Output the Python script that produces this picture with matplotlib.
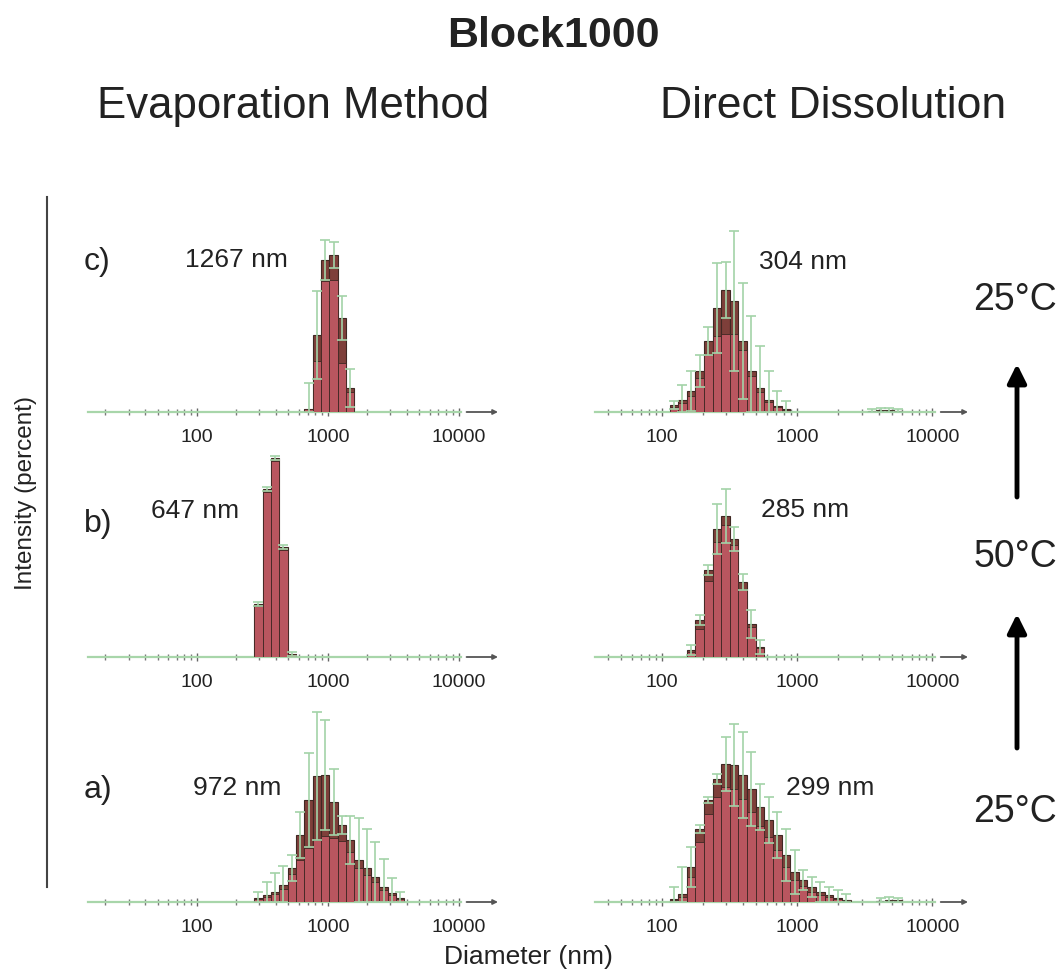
import matplotlib
matplotlib.use('Agg')
import matplotlib.pyplot as plt
from matplotlib.ticker import FixedLocator, NullFormatter
from matplotlib.lines import Line2D


plt.rcParams['font.family'] = ['Liberation Sans', 'DejaVu Sans']

W, H = 1061, 971

# size classes (nm) used by the instrument, and the readings of each panel
# top = bar height, inner = lighter (red) part, upper = top of error bar, all in %

c_left_sizes = [712.4, 825.0, 955.4, 1106, 1281, 1484]
c_left_top = [0.3, 7.7, 15.2, 15.7, 9.4, 2.4]
c_left_inner = [0.3, 5.1, 13.1, 13.2, 4.9, 2.0]
c_left_upper = [2.9, 12.1, 17.2, 17.0, 11.6, 4.3]

b_left_sizes = [295.3, 342.0, 396.1, 458.7, 531.2]
b_left_top = [5.3, 16.8, 19.9, 11.0, 0.3]
b_left_inner = [5.1, 16.5, 19.6, 10.7, 0.3]
b_left_upper = [5.5, 17.0, 20.1, 11.2, 0.5]

a_left_sizes = [295.3, 342.0, 396.1, 458.7, 531.2, 615.1, 712.4, 825.0, 955.4,
                1106, 1281, 1484, 1718, 1990, 2305, 2669, 3091, 3580]
a_left_top = [0.4, 0.7, 1.0, 1.7, 3.4, 6.7, 10.2, 12.6, 12.7,
              10.0, 7.7, 6.2, 4.2, 3.4, 2.5, 1.5, 0.9, 0.4]
a_left_inner = [0.3, 0.5, 0.8, 1.3, 2.8, 4.2, 5.4, 6.2, 6.6,
                6.4, 6.1, 5.0, 3.4, 2.7, 2.0, 1.2, 0.7, 0.3]
a_left_upper = [1.0, 2.0, 2.9, 3.6, 4.7, 9.0, 14.9, 19.0, 18.2,
                13.3, 8.6, 8.6, 8.4, 7.3, 6.0, 4.3, 2.4, 1.0]

c_right_sizes = [122.4, 141.8, 164.2, 190.1, 220.2, 255.0, 295.3, 342.0, 396.1,
                 458.7, 531.2, 615.1, 712.4, 825.0, 3580, 4145, 4801, 5560]
c_right_top = [0.7, 1.2, 2.1, 4.1, 7.1, 10.4, 12.2, 11.1, 7.1,
               4.1, 2.4, 1.2, 0.6, 0.3, 0.1, 0.2, 0.2, 0.1]
c_right_inner = [0.5, 0.9, 1.6, 3.4, 5.8, 7.6, 7.8, 7.8, 6.2,
                 3.6, 2.0, 1.0, 0.5, 0.2, 0.1, 0.1, 0.1, 0.1]
c_right_upper = [1.1, 2.7, 4.1, 5.7, 8.5, 14.9, 15.0, 18.1, 12.9,
                 9.6, 6.6, 4.1, 2.1, 1.1, 0.3, 0.4, 0.4, 0.3]

b_right_sizes = [164.2, 190.1, 220.2, 255.0, 295.3, 342.0, 396.1, 458.7, 531.2]
b_right_top = [0.7, 3.7, 8.7, 12.8, 14.1, 11.8, 7.5, 3.3, 1.0]
b_right_inner = [0.5, 2.8, 7.6, 11.5, 13.2, 11.2, 6.8, 3.0, 0.9]
b_right_upper = [1.2, 4.2, 9.2, 15.3, 16.8, 13.0, 8.3, 4.7, 1.7]

a_right_sizes = [122.4, 141.8, 164.2, 190.1, 220.2, 255.0, 295.3, 342.0, 396.1,
                 458.7, 531.2, 615.1, 712.4, 825.0, 955.4, 1106, 1281, 1484,
                 1718, 1990, 2305, 4145, 4801, 5560]
a_right_top = [0.3, 0.8, 3.5, 7.3, 10.2, 12.3, 13.8, 13.7, 12.7,
               11.3, 9.5, 8.2, 6.7, 4.7, 3.0, 2.2, 1.5, 1.0,
               0.7, 0.4, 0.2, 0.1, 0.2, 0.2]
a_right_inner = [0.2, 0.5, 2.5, 6.0, 8.8, 10.5, 11.5, 11.3, 10.3,
                 9.0, 7.6, 6.5, 5.2, 3.5, 2.2, 1.6, 1.0, 0.7,
                 0.5, 0.3, 0.1, 0.1, 0.1, 0.1]
a_right_upper = [1.5, 3.5, 5.5, 7.7, 10.5, 12.8, 16.5, 17.8, 17.0,
                 15.0, 11.8, 10.5, 9.0, 7.3, 5.2, 3.2, 2.5, 2.0,
                 1.5, 1.2, 0.8, 0.4, 0.5, 0.4]

size_labels = ['1267 nm', '647 nm', '972 nm', '304 nm', '285 nm', '299 nm']
panel_letters = ['c)', 'b)', 'a)']
temperatures = ['25°C', '50°C', '25°C']

BIN_RATIO = 1.1581
DARK = '#7e3f3a'
RED = '#b9565f'
EDGE = '#3f2823'
GREEN = '#a3d3a8'
TEXT = '#222222'


def px_axes(fig, x0, x1, base, height=220):
    """Axes placed by pixel box: x0..x1 wide, bottom at baseline y (from top)"""
    ax = fig.add_axes([x0 / W, 1 - base / H, (x1 - x0) / W, height / H])
    ax.patch.set_visible(False)
    return ax


def draw_panel(ax, sizes, top, inner, upper, xlim):
    half = BIN_RATIO ** 0.5
    lefts = [s / half for s in sizes]
    widths = [s * (half - 1 / half) for s in sizes]
    ax.bar(lefts, top, width=widths, align='edge', color=DARK,
           edgecolor=EDGE, linewidth=0.8, zorder=2)
    ax.bar(lefts, inner, width=widths, align='edge', color=RED,
           edgecolor=EDGE, linewidth=0.6, zorder=3)
    err = [max(u - t, 0) for u, t in zip(upper, top)]
    low = [min(e, t) for e, t in zip(err, top)]
    ax.errorbar(sizes, top, yerr=[low, err], fmt='none', ecolor=GREEN,
                elinewidth=1.2, capsize=3.5, capthick=1.2, zorder=4)

    ax.set_xscale('log')
    ax.set_xlim(*xlim)
    ax.set_ylim(0, 22)
    for side in ['top', 'left', 'right']:
        ax.spines[side].set_visible(False)
    ax.spines['bottom'].set_color('#a8d6aa')
    ax.spines['bottom'].set_linewidth(1.6)
    ax.spines['bottom'].set_bounds(xlim[0], 10500)
    ax.set_yticks([])

    ax.xaxis.set_major_locator(FixedLocator([100, 1000, 10000]))
    ax.set_xticklabels(['100', '1000', '10000'])
    minors = [m * 10 ** e for e in range(1, 4) for m in range(2, 10)]
    minors = [m for m in minors if m > xlim[0]]
    ax.xaxis.set_minor_locator(FixedLocator(minors))
    ax.xaxis.set_minor_formatter(NullFormatter())
    ax.tick_params(axis='x', which='major', direction='inout', length=6,
                   width=1, color='#666666', labelsize=14, labelcolor=TEXT,
                   pad=9)
    ax.tick_params(axis='x', which='minor', direction='inout', length=4,
                   width=1, color='#777777')
    ax.annotate('', xy=(xlim[1], 0), xytext=(11500, 0),
                arrowprops=dict(arrowstyle='-|>', color='#555555', lw=1.3,
                                mutation_scale=7, shrinkA=0, shrinkB=0),
                annotation_clip=False)


fig = plt.figure(figsize=(W / 100, H / 100), dpi=100)

left_data = [
    (c_left_sizes, c_left_top, c_left_inner, c_left_upper),
    (b_left_sizes, b_left_top, b_left_inner, b_left_upper),
    (a_left_sizes, a_left_top, a_left_inner, a_left_upper),
]
right_data = [
    (c_right_sizes, c_right_top, c_right_inner, c_right_upper),
    (b_right_sizes, b_right_top, b_right_inner, b_right_upper),
    (a_right_sizes, a_right_top, a_right_inner, a_right_upper),
]
baselines = [412, 657, 902]

for base, data in zip(baselines, left_data):
    ax = px_axes(fig, 88, 498, base)
    draw_panel(ax, *data, xlim=(14.7, 20000))

for base, data in zip(baselines, right_data):
    ax = px_axes(fig, 595, 968, base)
    draw_panel(ax, *data, xlim=(32, 18300))


def ftext(x, y, s, **kw):
    kw.setdefault('color', TEXT)
    return fig.text(x / W, 1 - y / H, s, **kw)


ftext(553, 47, 'Block1000', fontsize=31, fontweight='bold', ha='center',
      va='baseline')
ftext(293, 118, 'Evaporation Method', fontsize=31.5, ha='center',
      va='baseline')
ftext(833, 118, 'Direct Dissolution', fontsize=32, ha='center', va='baseline')

size_pos = [(236, 260), (195, 511), (237, 788),
            (803, 262), (805, 510), (830, 788)]
for (x, y), s in zip(size_pos, size_labels):
    ftext(x, y, s, fontsize=19, ha='center', va='center')

for y, s in zip([262, 524, 790], panel_letters):
    ftext(84, y, s, fontsize=23, ha='left', va='center')

for y, s in zip([300, 557, 812], temperatures):
    ftext(1015, y, s, fontsize=27, ha='center', va='center')

for y0, y1 in [(497, 364), (748, 614)]:
    fig.patches.append(matplotlib.patches.FancyArrowPatch(
        (1017 / W, 1 - y0 / H), (1017 / W, 1 - y1 / H),
        transform=fig.transFigure, arrowstyle='-|>', mutation_scale=28,
        color='black', lw=3.5, shrinkA=0, shrinkB=0))

fig.lines.append(Line2D([47 / W, 47 / W], [1 - 197 / H, 1 - 887 / H],
                        transform=fig.transFigure, color='#444444', lw=1.5))

ftext(26, 493, 'Intensity (percent)', fontsize=17.5, rotation=90,
      ha='center', va='center')
ftext(528, 957, 'Diameter (nm)', fontsize=19, ha='center', va='center')

fig.savefig('out.png', dpi=100)
